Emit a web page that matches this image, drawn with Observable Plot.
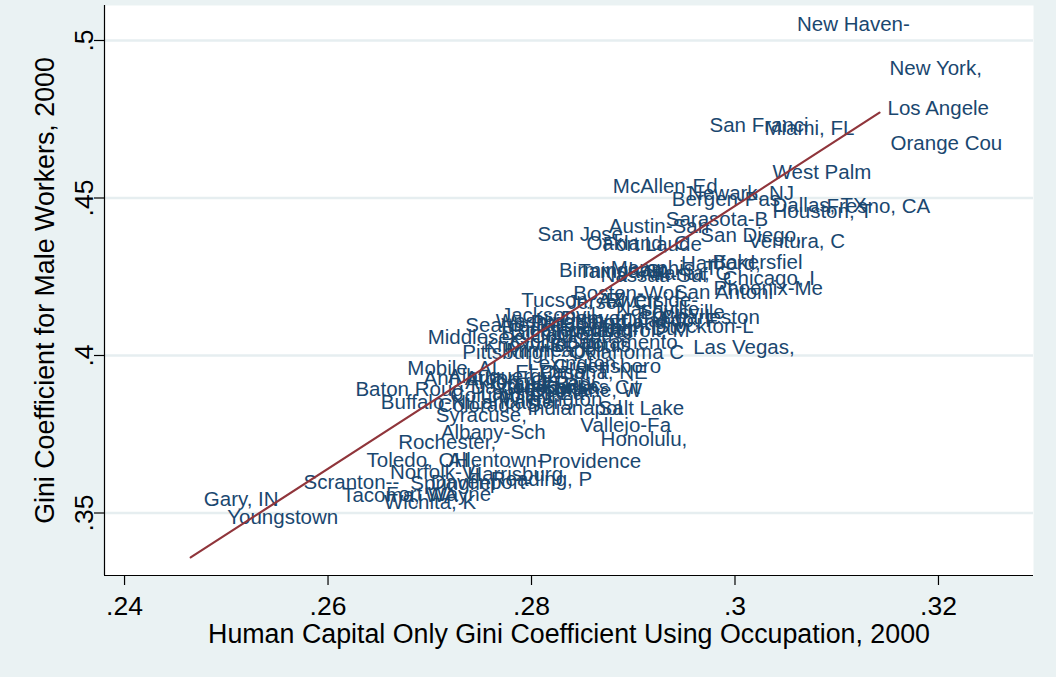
<!DOCTYPE html>
<html>
<head>
<meta charset="utf-8">
<script src="https://cdn.jsdelivr.net/npm/d3@7"></script>
<script src="https://cdn.jsdelivr.net/npm/@observablehq/plot@0.6"></script>
<style>
  html, body { margin: 0; padding: 0; background: #eaf2f3; }
  #chart svg { display: block; }
</style>
</head>
<body>
<div id="chart"></div>
<script>
// ---- data ----
const cities = [
  "New Haven-","New York,","Los Angele","Orange Cou","San Franci","Miami, FL","West Palm","McAllen-Ed","Newark, NJ","Bergen-Pas",
  "Dallas, TX","Houston, T","Fresno, CA","Sarasota-B","Austin-San","San Jose,","San Diego,","Ventura, C","Oakland, C","Fort Laude",
  "Bakersfiel","Hartford, ","Birmingham","Tampa-St. ","Memphis, T","Nassau-Suf","Atlanta, G","Chicago, I","Phoenix-Me","San Antoni",
  "Boston-Wor","Tucson, AZ","Jersey Cit","Riverside-","Jacksonvil","Seattle-Be","Washington","Nashville,","Louisville","Charleston",
  "Stockton-L","Denver, CO","Portland-V","Philadelph","Detroit, M","Cleveland-","Richmond-P","Raleigh-Du","Orlando, F","Columbus, ",
  "Baltimore,","St. Louis,","Sacramento","Middlesex-","Knoxville,","Cincinnati","Pittsburgh","Oklahoma C","Minneapoli","Las Vegas,",
  "Mobile, AL","Lexington,","Greensboro","Omaha, NE","El Paso, T","Ann Arbor,","Albuquerqu","Akron, OH","Dayton-Spr","Grand Rapi",
  "Greenville","Little Roc","Kansas Cit","Baton Roug","Lansing-Ea","Spokane, W","Columbia, ","Buffalo-Ni","Colorado S","Wilmington",
  "Lancaster,","Indianapol","Salt Lake","Syracuse, ","Vallejo-Fa","Albany-Sch","Honolulu, ","Rochester,","Toledo, OH","Allentown-",
  "Providence","Norfolk-Vi","Harrisburg","Scranton--","Springfiel","Davenport-","Reading, P","Tacoma, WA","Fort Wayne","Wichita, K",
  "Gary, IN","Youngstown"
];
const hcGini = [
  0.3057,0.3148,0.3146,0.3149,0.2971,0.3025,0.3033,0.2876,0.2950,0.2934,
  0.3033,0.3033,0.3086,0.2928,0.2872,0.2802,0.2962,0.3009,0.2850,0.2866,
  0.2974,0.2943,0.2823,0.2842,0.2874,0.2864,0.2903,0.2984,0.2975,0.2936,
  0.2837,0.2786,0.2831,0.2869,0.2766,0.2731,0.2761,0.2879,0.2903,0.2923,
  0.2918,0.2825,0.2854,0.2795,0.2864,0.2805,0.2775,0.2839,0.2884,0.2795,
  0.2766,0.2815,0.2831,0.2694,0.2749,0.2775,0.2728,0.2834,0.2771,0.2955,
  0.2674,0.2792,0.2817,0.2805,0.2780,0.2690,0.2714,0.2731,0.2736,0.2756,
  0.2766,0.2780,0.2805,0.2623,0.2746,0.2795,0.2716,0.2648,0.2704,0.2766,
  0.2736,0.2792,0.2862,0.2702,0.2844,0.2707,0.2864,0.2665,0.2634,0.2714,
  0.2803,0.2657,0.2733,0.2572,0.2677,0.2697,0.2756,0.2610,0.2653,0.2651,
  0.2474,0.2497
];
const maleGini = [
  0.5051,0.4911,0.4784,0.4673,0.4730,0.4721,0.4581,0.4537,0.4514,0.4495,
  0.4476,0.4457,0.4473,0.4432,0.4410,0.4384,0.4381,0.4362,0.4356,0.4352,
  0.4295,0.4292,0.4270,0.4267,0.4276,0.4254,0.4260,0.4244,0.4213,0.4200,
  0.4197,0.4175,0.4168,0.4175,0.4127,0.4095,0.4108,0.4146,0.4137,0.4121,
  0.4092,0.4117,0.4105,0.4105,0.4079,0.4079,0.4079,0.4086,0.4111,0.4060,
  0.4070,0.4032,0.4041,0.4057,0.4032,0.4041,0.4010,0.4010,0.4016,0.4025,
  0.3959,0.3975,0.3965,0.3946,0.3946,0.3927,0.3933,0.3914,0.3898,0.3911,
  0.3895,0.3905,0.3898,0.3892,0.3879,0.3889,0.3873,0.3851,0.3841,0.3860,
  0.3851,0.3832,0.3832,0.3810,0.3778,0.3756,0.3733,0.3724,0.3667,0.3667,
  0.3663,0.3629,0.3622,0.3597,0.3594,0.3597,0.3606,0.3556,0.3559,0.3533,
  0.3543,0.3486
];
// fitted line endpoints
const fitX = [0.2465, 0.3142];
const fitY = [0.3359, 0.4771];
// axes
const xTicks = [0.24, 0.26, 0.28, 0.30, 0.32];
const yTicks = [0.35, 0.40, 0.45, 0.50];
const xDomain = [0.23803, 0.32934];
const yDomain = [0.33016, 0.51111];
const xTitle = "Human Capital Only Gini Coefficient Using Occupation, 2000";
const yTitle = "Gini Coefficient for Male Workers, 2000";

// ---- build ----
const pts = cities.map((c, i) => ({name: c, x: hcGini[i], y: maleGini[i]}));
const fit = fitX.map((x, i) => ({x, y: fitY[i]}));
const fmt = d => String(+d.toFixed(2)).replace(/^0\./, ".");
const FONT = "'Liberation Sans', Arial, Helvetica, sans-serif";

const chart = Plot.plot({
  width: 1056,
  height: 677,
  marginLeft: 104,
  marginRight: 23,
  marginTop: 5,
  marginBottom: 102,
  style: {background: "#eaf2f3", fontFamily: FONT, overflow: "visible"},
  x: {domain: xDomain, axis: null},
  y: {domain: yDomain, axis: null},
  marks: [
    Plot.frame({fill: "white"}),
    Plot.gridY(yTicks, {stroke: "#e6eef0", strokeOpacity: 1, strokeWidth: 2.5}),
    Plot.text(pts, {x: "x", y: "y", text: "name", textAnchor: "start", dx: 4,
      fill: "#1a476f", fontSize: 20.5, fontFamily: FONT}),
    Plot.line(fit, {x: "x", y: "y", stroke: "#90353b", strokeWidth: 2.2}),
    // axis lines
    Plot.ruleY([yDomain[0]], {stroke: "black", strokeWidth: 1.2}),
    Plot.ruleX([xDomain[0]], {stroke: "black", strokeWidth: 1.2}),
    // ticks
    Plot.axisX({ticks: xTicks, tickSize: 10, tickFormat: () => "", label: null, stroke: "black", strokeWidth: 1.2}),
    Plot.axisY({ticks: yTicks, tickSize: 10, tickFormat: () => "", label: null, stroke: "black", strokeWidth: 1.2}),
    // tick labels
    Plot.text(xTicks, {x: d => d, frameAnchor: "bottom", dy: 31, text: fmt,
      textAnchor: "middle", lineAnchor: "middle", fontSize: 26.5, fill: "black", fontFamily: FONT}),
    Plot.text(yTicks, {y: d => d, frameAnchor: "left", dx: -20, rotate: -90, text: fmt,
      textAnchor: "middle", lineAnchor: "middle", fontSize: 26.5, fill: "black", fontFamily: FONT}),
    // axis titles
    Plot.text([xTitle], {frameAnchor: "bottom", dy: 59, text: d => d,
      textAnchor: "middle", lineAnchor: "middle", fontSize: 26.8, fill: "black", fontFamily: FONT}),
    Plot.text([yTitle], {frameAnchor: "left", dx: -59, rotate: -90, text: d => d,
      textAnchor: "middle", lineAnchor: "middle", fontSize: 26.8, fill: "black", fontFamily: FONT})
  ]
});
document.getElementById("chart").appendChild(chart);
</script>
</body>
</html>
